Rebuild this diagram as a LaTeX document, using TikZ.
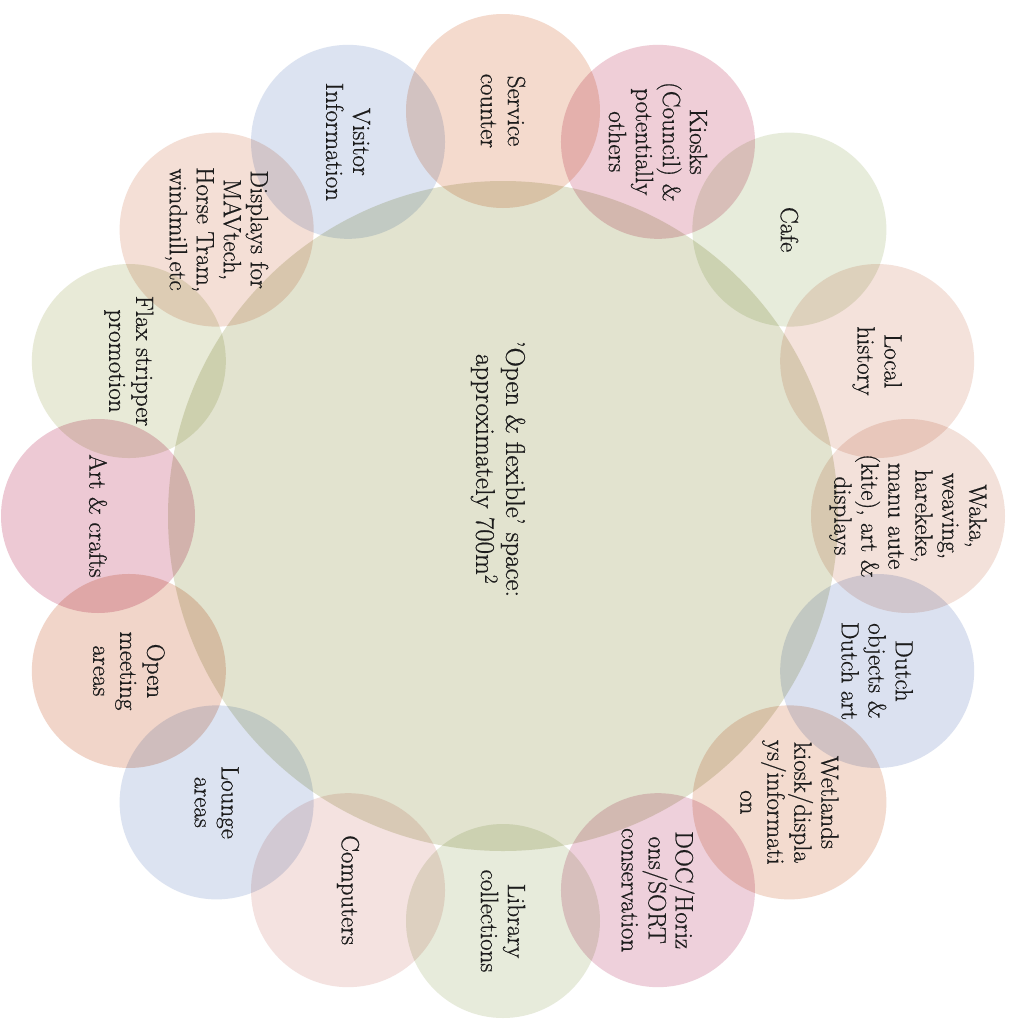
\documentclass[tikz,border=0pt]{standalone}
\usepackage{fontspec}
\setmainfont{Latin Modern Roman}[FakeBold=0.6]
\definecolor{mainc}{HTML}{E2E3CF}
\definecolor{cSer}{HTML}{F0CCB9}
\definecolor{cKio}{HTML}{E9BBC8}
\definecolor{cCaf}{HTML}{DEE4CD}
\definecolor{cLoc}{HTML}{F0D7CD}
\definecolor{cWak}{HTML}{EED6CC}
\definecolor{cDut}{HTML}{CDD6EA}
\definecolor{cWet}{HTML}{EECDBC}
\definecolor{cDOC}{HTML}{E8BECD}
\definecolor{cLib}{HTML}{DDE3CD}
\definecolor{cCom}{HTML}{F0D7D4}
\definecolor{cLou}{HTML}{CFD8EB}
\definecolor{cOpe}{HTML}{ECC4B4}
\definecolor{cArt}{HTML}{E6B4C3}
\definecolor{cFla}{HTML}{DFE2C8}
\definecolor{cDis}{HTML}{F0D2C6}
\definecolor{cVis}{HTML}{CFD8EB}
\definecolor{txt}{HTML}{1C1C1C}
\begin{document}
\begin{tikzpicture}[x=1pt,y=-1pt,
  bubble/.style={circle, minimum size=194pt, inner sep=0pt, draw=none},
  lab/.style={rotate=-90, align=center, font=\fontsize{25}{27}\selectfont, text=txt, inner sep=0pt}]
\fill[white] (0,0) rectangle (1009,1023);
\useasboundingbox (0,0) rectangle (1009,1023);
\begin{scope}[blend mode=multiply]
  \node[circle, minimum size=670pt, inner sep=0pt, fill=mainc] (main) at (503,516) {};
  \foreach \i/\c in {0/cSer,1/cKio,2/cCaf,3/cLoc,4/cWak,5/cDut,6/cWet,7/cDOC,8/cLib,9/cCom,10/cLou,11/cOpe,12/cArt,13/cFla,14/cDis,15/cVis}
    \node[bubble, fill=\c!72!white] (b\i) at ({503+405*cos(90-22.5*\i)}, {516-405*sin(90-22.5*\i)}) {};
\end{scope}
\node[lab] (t0) at (b0) {Service\\counter};
\node[lab] (t1) at (b1) {Kiosks\\(Council) \&\\potentially\\others};
\node[lab] (t2) at (b2) {Cafe};
\node[lab] (t3) at (b3) {Local\\history};
\node[lab] (t4) at (b4) {Waka,\\weaving,\\harekeke,\\manu aute\\(kite), art \&\\displays};
\node[lab] (t5) at (b5) {Dutch\\objects \&\\Dutch art};
\node[lab] (t6) at (b6) {Wetlands\\kiosk/displa\\ys/informati\\on};
\node[lab] (t7) at (b7) {DOC/Horiz\\ons/SORT\\conservation};
\node[lab] (t8) at (b8) {Library\\collections};
\node[lab] (t9) at (b9) {Computers};
\node[lab] (t10) at (b10) {Lounge\\areas};
\node[lab] (t11) at (b11) {Open\\meeting\\areas};
\node[lab] (t12) at (b12) {Art \& crafts};
\node[lab] (t13) at (b13) {Flax stripper\\promotion};
\node[lab] (t14) at (b14) {Displays for\\MAVtech,\\Horse Tram,\\windmill,etc};
\node[lab] (t15) at (b15) {Visitor\\Information};
\node[lab, font=\fontsize{27}{30}\selectfont] (title) at (498,469) {'Open \& flexible' space:\\approximately 700m\textsuperscript{2}};
\end{tikzpicture}
\end{document}
